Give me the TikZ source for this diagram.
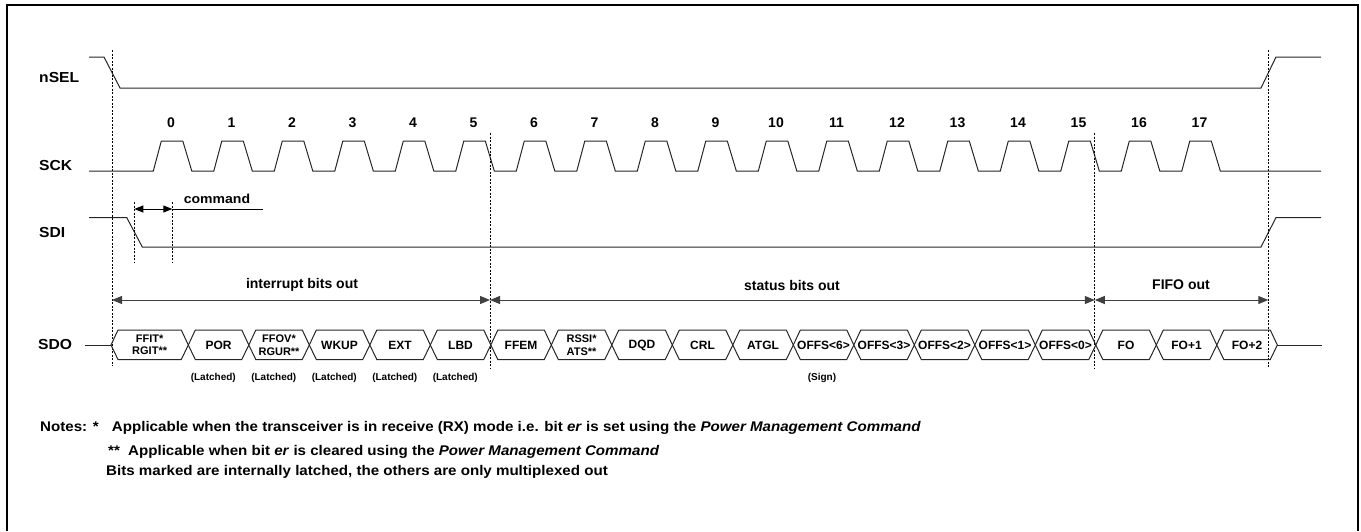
\documentclass[tikz,border=0pt]{standalone}
\usepackage{fontspec}
\setmainfont{Liberation Sans}
\newfontfamily\widefont{Liberation Sans}[FakeStretch=1.08]
\usetikzlibrary{arrows.meta}
\begin{document}
\begin{tikzpicture}[x=1pt,y=-1pt,
  sig/.style={line width=1pt, black!85},
  vdash/.style={line width=0.8pt, dash pattern=on 2pt off 1.5pt},
  rowlbl/.style={font=\widefont\fontsize{14.5}{14.5}\selectfont\bfseries, inner sep=0, anchor=west},
  num/.style={font=\fontsize{14}{14}\selectfont\bfseries, inner sep=0},
  celltxt/.style={font=\fontsize{12}{12}\selectfont\bfseries, inner sep=0},
  celltwo/.style={font=\fontsize{11}{12.5}\selectfont\bfseries, inner sep=0, align=center},
  small/.style={font=\fontsize{10}{10}\selectfont\bfseries, inner sep=0},
  span/.style={font=\fontsize{14}{14}\selectfont\bfseries, inner sep=0},
  dimarr/.style={line width=1pt, black!75, {Triangle[length=10pt,width=8pt]}-{Triangle[length=10pt,width=8pt]}},
  cmdarr/.style={line width=1pt, {Triangle[length=9pt,width=7pt]}-{Triangle[length=9pt,width=7pt]}},
  note/.style={font=\widefont\fontsize{14}{14}\selectfont\bfseries, inner sep=0, anchor=west}]
\useasboundingbox (0,0) rectangle (1361,531);
% frame
\draw[line width=1.3pt] (7,531) -- (7,5) -- (1358,5) -- (1358,531);
% row labels
\node[rowlbl] (lnsel) at (39,78) {nSEL};
\node[rowlbl] (lsck) at (39,166) {SCK};
\node[rowlbl] (lsdi) at (39,233) {SDI};
\node[rowlbl] (lsdo) at (38,345) {SDO};
% nSEL
\draw[sig] (89,57) -- (104,57) -- (120,88) -- (1261,88) -- (1276,57) -- (1321,57);
% SCK
\draw[sig] (89,171) \foreach \k in {0,...,17} { -- ({153.3+60.5*\k},171) -- ++(8,-30) -- ++(21.5,0) -- ++(9,30) } -- (1321,171);
\foreach \k in {0,...,17} { \node[num] (n\k) at ({171+60.5*\k},123) {\k}; }
% SDI
\draw[sig] (89,217.5) -- (126.7,217.5) -- (142.3,247) -- (1261,247) -- (1276,217.5) -- (1321,217.5);
\draw[vdash] (134.3,202) -- (134.3,262);
\draw[vdash] (172.3,202) -- (172.3,262);
\coordinate (ca) at (134.3,209);
\coordinate (cb) at (172.3,209);
\coordinate (cc) at (263,209);
\draw[cmdarr] (ca) -- (cb);
\draw[line width=0.8pt] (cb) -- (cc);
\node[span, font=\widefont\fontsize{13}{13}\selectfont\bfseries] (cmd) at (217,199) {command};
% vertical dashed markers
\draw[vdash] (112,50) -- (112,366);
\draw[vdash] (490,133) -- (490,368);
\draw[vdash] (1094.8,133) -- (1094.8,368);
\draw[vdash] (1268.3,50) -- (1268.3,368);
% span arrows
\coordinate (s0) at (112,300);
\coordinate (s1) at (490,300);
\coordinate (s2) at (1094.8,300);
\coordinate (s3) at (1268.3,300);
\draw[dimarr] (s0) -- (s1);
\draw[dimarr] (s1) -- (s2);
\draw[dimarr] (s2) -- (s3);
\node[span] (t1) at (302,285) {interrupt bits out};
\node[span] (t2) at (792,285) {status bits out};
\node[span] (t3) at (1181,285) {FIFO out};
% SDO
\coordinate (d0) at (85,345);
\coordinate (d1) at (111,345);
\coordinate (d2) at (1277.3,345);
\coordinate (d3) at (1321.7,345);
\draw[sig] (d0) -- (d1);
\draw[sig] (d2) -- (d3);
\foreach \i/\t/\s in {0/{FFIT*\\RGIT**}/celltwo, 1/POR/celltxt, 2/{FFOV*\\RGUR**}/celltwo, 3/WKUP/celltxt,
  4/EXT/celltxt, 5/LBD/celltxt, 6/FFEM/celltxt, 7/{RSSI*\\ATS**}/celltwo, 8/DQD/celltxt, 9/CRL/celltxt,
  10/ATGL/celltxt, 11/{OFFS<6>}/celltxt, 12/{OFFS<3>}/celltxt, 13/{OFFS<2>}/celltxt, 14/{OFFS<1>}/celltxt,
  15/{OFFS<0>}/celltxt, 16/FO/celltxt, 17/FO+1/celltxt, 18/FO+2/celltxt} {
  \pgfmathsetmacro\a{\i==0 ? 111 : 188.3+60.5*(\i-1)}
  \pgfmathsetmacro\b{188.3+60.5*\i}
  \draw[sig] (\a,345) -- (\a+7,330) -- (\b-7,330) -- (\b,345) -- (\b-7,359.5) -- (\a+7,359.5) -- cycle;
  \node[\s] (c\i) at ({(\a+\b)/2},345) {\t};
}
\foreach \i in {1,...,5} { \node[small] (lt\i) at ({188.3+60.5*(\i-1)+25},378) {(Latched)}; }
\node[small] (sg) at (822,378) {(Sign)};
% notes
\node[note] (nt1) at (40,428) {Notes: *\hspace{9pt} Applicable when the transceiver is in receive (RX) mode i.e. bit \textit{er} is set using the \textit{Power Management Command}};
\node[note] (nt2) at (108,452) {**\hspace{4pt} Applicable when bit \textit{er} is cleared using the \textit{Power Management Command}};
\node[note] (nt3) at (106,472) {Bits marked are internally latched, the others are only multiplexed out};
\end{tikzpicture}
\end{document}
